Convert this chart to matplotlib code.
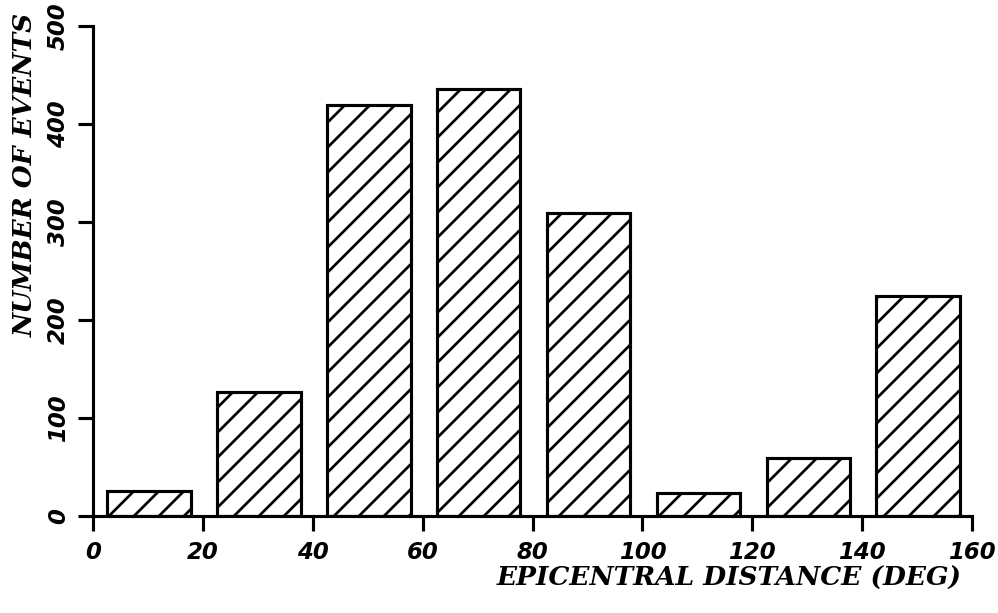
import matplotlib
matplotlib.use("Agg")
import matplotlib.pyplot as plt

# histogram of events per 20 degree bin of epicentral distance
bin_starts = [0, 20, 40, 60, 80, 100, 120, 140]
counts = [26, 127, 419, 436, 309, 23, 59, 224]
x_ticks = [0, 20, 40, 60, 80, 100, 120, 140, 160]
y_ticks = [0, 100, 200, 300, 400, 500]

plt.rcParams["hatch.linewidth"] = 1.3

fig = plt.figure(figsize=(998 / 150, 613 / 150), dpi=150)
ax = fig.add_axes([93 / 998, 1 - 516 / 613, (972 - 93) / 998, (516 - 26) / 613])

lefts = [b + 2.6 for b in bin_starts]
ax.bar(lefts, counts, width=15.2, align="edge", facecolor="white",
       edgecolor="black", linewidth=1.5, hatch="//")

ax.set_xlim(0, 160)
ax.set_ylim(0, 500)
ax.spines["top"].set_visible(False)
ax.spines["right"].set_visible(False)
ax.spines["left"].set_linewidth(1.5)
ax.spines["bottom"].set_linewidth(1.5)

tick_font = dict(family="DejaVu Sans", weight="bold", style="italic", size=11)
ax.set_xticks(x_ticks)
ax.set_xticklabels([str(t) for t in x_ticks], fontdict=tick_font)
ax.set_yticks(y_ticks)
ax.set_yticklabels([str(t) for t in y_ticks], fontdict=tick_font,
                   rotation=90, va="center")
ax.tick_params(axis="both", direction="out", length=7, width=1.5)
ax.tick_params(axis="x", pad=5)
ax.tick_params(axis="y", pad=4)

label_font = dict(family="DejaVu Serif", weight="bold", style="italic", size=12.7)
fig.text(962 / 998, 1 - 578 / 613, "EPICENTRAL DISTANCE (DEG)",
         ha="right", va="center", **label_font)
fig.text(25 / 998, 1 - 175 / 613, "NUMBER OF EVENTS", rotation=90,
         ha="center", va="center", **label_font)

fig.savefig("out.png", dpi=150)
